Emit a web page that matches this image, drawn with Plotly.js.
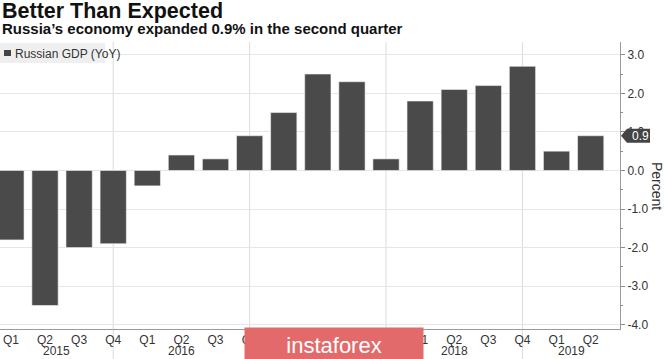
<!DOCTYPE html>
<html>
<head>
<meta charset="utf-8">
<script src="https://cdn.plot.ly/plotly-3.0.1.min.js"></script>
<style>
  html, body { margin: 0; padding: 0; background: #ffffff; }
  #chart { width: 665px; height: 359px; }
</style>
</head>
<body>
<div id="chart"></div>
<script>
// ---- data ----
const quarters = ['Q1','Q2','Q3','Q4','Q1','Q2','Q3','Q4','Q1','Q2','Q3','Q4','Q1','Q2','Q3','Q4','Q1','Q2'];
const years = ['2015','2016','2017','2018','2019'];
const gdp = [-1.8, -3.5, -2.0, -1.9, -0.4, 0.4, 0.3, 0.9, 1.5, 2.5, 2.3, 0.3, 1.8, 2.1, 2.2, 2.7, 0.5, 0.9];
const yTicks = [3, 2, 1, 0, -1, -2, -3, -4];
const lastValue = 0.9;
const seriesName = 'Russian GDP (YoY)';
const titleText = 'Better Than Expected';
const subtitleText = 'Russia\u2019s economy expanded 0.9% in the second quarter';
const axisTitle = 'Percent';

// ---- geometry (pixels of the 665x359 page) ----
const W = 665, H = 359;
const L = 0, R = 620, T = 42, B = 329;
const PW = R - L, PH = B - T;
const px = p => (p - L) / PW;
const py = p => (B - p) / PH;
const xRange = [-0.32, 17.86];
const yRange = [-4.11, 3.33];
const ypaper = v => (v - yRange[0]) / (yRange[1] - yRange[0]);

const xIdx = quarters.map((q, i) => i);
const q4Idx = xIdx.filter(i => quarters[i] === 'Q4');
// year spans: between Q4 dividers, clipped to the visible range
const bounds = [xRange[0]].concat(q4Idx).concat([xRange[1]]);
const yearCenters = years.map((y, k) => (bounds[k] + bounds[k + 1]) / 2);

const tickFont = {family: 'Liberation Sans Narrow, Liberation Sans, Arial, sans-serif', size: 12, color: '#333333'};

const shapes = [];
// year dividers
q4Idx.forEach(i => {
  shapes.push({type: 'line', xref: 'x', yref: 'paper', x0: i, x1: i, y0: py(359), y1: 1,
    line: {color: '#dcdcdc', width: 1}, layer: 'below'});
});
// legend box
shapes.push({type: 'rect', xref: 'paper', yref: 'paper', x0: px(0), x1: px(105), y0: py(63), y1: py(43),
  fillcolor: '#efefef', line: {width: 0}, layer: 'above'});
shapes.push({type: 'rect', xref: 'paper', yref: 'paper', x0: px(4), x1: px(11), y0: py(56), y1: py(50),
  fillcolor: '#444444', line: {width: 0}, layer: 'above'});
// last value tag
const yv = ypaper(lastValue), hh = 7 / PH;
const x0 = 1 + 1 / PW, xa = 1 + 7 / PW, x1 = 1 + 30 / PW;
shapes.push({type: 'path', xref: 'paper', yref: 'paper',
  path: `M ${x0},${yv} L ${xa},${yv + hh} L ${x1},${yv + hh} L ${x1},${yv - hh} L ${xa},${yv - hh} Z`,
  fillcolor: '#444444', line: {width: 0}, layer: 'above'});

const annotations = [];
annotations.push({xref: 'paper', yref: 'paper', x: px(0), y: py(11), xanchor: 'left', yanchor: 'middle',
  text: '<b>' + titleText + '</b>', showarrow: false,
  font: {family: 'Liberation Sans, Arial, sans-serif', size: 21.5, color: '#111111'}});
annotations.push({xref: 'paper', yref: 'paper', x: px(0), y: py(28.5), xanchor: 'left', yanchor: 'middle',
  text: '<b>' + subtitleText + '</b>', showarrow: false,
  font: {family: 'Liberation Sans, Arial, sans-serif', size: 15, color: '#111111'}});
annotations.push({xref: 'paper', yref: 'paper', x: px(13), y: py(54), xanchor: 'left', yanchor: 'middle',
  text: seriesName, showarrow: false, font: tickFont});
annotations.push({xref: 'paper', yref: 'paper', x: 1 + 10 / PW, y: yv, xanchor: 'left', yanchor: 'middle',
  text: lastValue.toFixed(1), showarrow: false,
  font: {family: tickFont.family, size: 12, color: '#ffffff'}});
annotations.push({xref: 'paper', yref: 'paper', x: px(657), y: py(186), xanchor: 'center', yanchor: 'middle',
  text: axisTitle, textangle: 90, showarrow: false,
  font: {family: 'Liberation Sans, Arial, sans-serif', size: 14, color: '#333333'}});
years.forEach((y, k) => {
  annotations.push({xref: 'x', yref: 'paper', x: yearCenters[k], y: py(351), xanchor: 'center', yanchor: 'middle',
    text: y, showarrow: false, font: tickFont});
});
// watermark
annotations.push({xref: 'paper', yref: 'paper', x: px(244), y: py(327), xanchor: 'left', yanchor: 'top',
  text: 'instaforex', showarrow: false, width: 178, height: 34, borderpad: 0, bgcolor: '#e36a6a',
  font: {family: 'Liberation Sans Narrow, Liberation Sans, Arial, sans-serif', size: 22, color: '#ffffff'}});

const trace = {
  type: 'bar', x: xIdx, y: gdp, name: seriesName, width: 0.77,
  marker: {color: '#4a4a4a', line: {color: '#f2f2f2', width: 0.6}},
  hoverinfo: 'y'
};

const layout = {
  width: W, height: H,
  margin: {l: L, r: W - R, t: T, b: H - B, pad: 0},
  paper_bgcolor: '#ffffff', plot_bgcolor: '#ffffff',
  showlegend: false,
  bargap: 0.23,
  xaxis: {
    range: xRange, tickmode: 'array', tickvals: xIdx, ticktext: quarters,
    showgrid: false, zeroline: false, showline: true, linecolor: '#9a9a9a', linewidth: 1,
    ticks: '', tickfont: tickFont, fixedrange: true
  },
  yaxis: {
    range: yRange, side: 'right', tickmode: 'array', tickvals: yTicks,
    ticktext: yTicks.map(v => v.toFixed(1)),
    showgrid: true, gridcolor: '#e6e6e6', gridwidth: 1, zeroline: false,
    showline: true, linecolor: '#9a9a9a', linewidth: 1,
    ticks: 'outside', ticklen: 4, tickcolor: '#8a8a8a', tickfont: tickFont,
    minor: {tickmode: 'array', tickvals: yTicks.slice(0, -1).map(v => v - 0.5), ticks: 'outside', ticklen: 2, tickcolor: '#8a8a8a', showgrid: false},
    fixedrange: true
  },
  shapes: shapes,
  annotations: annotations
};

Plotly.newPlot('chart', [trace], layout, {displayModeBar: false, staticPlot: true});
</script>
</body>
</html>
